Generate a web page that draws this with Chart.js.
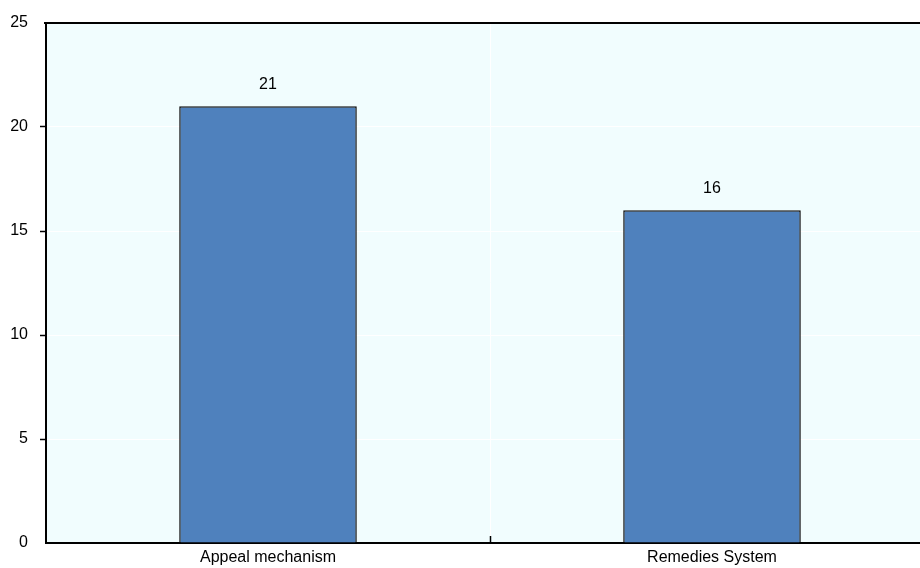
<!DOCTYPE html>
<html>
<head>
<meta charset="utf-8">
<script src="https://cdn.jsdelivr.net/npm/chart.js@4/dist/chart.umd.min.js"></script>
<style>
  html, body { margin: 0; padding: 0; background: #ffffff; overflow: hidden; }
  #wrap { width: 934px; height: 568px; }
</style>
</head>
<body>
<div id="wrap"><canvas id="c" width="934" height="568"></canvas></div>
<script>
// Chart data
const categories = ['Appeal mechanism', 'Remedies System'];
const values = [21, 16];
const yTicks = [0, 5, 10, 15, 20, 25];

const FONT = '"Liberation Sans", Arial, sans-serif';

// Plot background, top frame line, inward category tick and value labels
const decor = {
  id: 'decor',
  beforeDraw(chart) {
    const { ctx, chartArea: a } = chart;
    ctx.save();
    ctx.fillStyle = '#F1FDFE';
    ctx.fillRect(a.left, a.top, a.right - a.left, a.bottom - a.top);
    ctx.restore();
  },
  afterDraw(chart) {
    const { ctx, chartArea: a, scales } = chart;
    ctx.save();
    // top frame
    ctx.strokeStyle = '#000';
    ctx.lineWidth = 2;
    ctx.beginPath();
    ctx.moveTo(a.left - 2, a.top);
    ctx.lineTo(a.right, a.top);
    ctx.stroke();
    // inward tick between categories
    const x = scales.x;
    for (let i = 0; i < categories.length - 1; i++) {
      const bx = Math.round((x.getPixelForValue(i) + x.getPixelForValue(i + 1)) / 2) + 0.5;
      ctx.lineWidth = 1.5;
      ctx.beginPath();
      ctx.moveTo(bx, a.bottom);
      ctx.lineTo(bx, a.bottom - 7);
      ctx.stroke();
    }
    // value labels above bars
    ctx.fillStyle = '#000';
    ctx.font = '16px ' + FONT;
    ctx.textAlign = 'center';
    ctx.textBaseline = 'middle';
    const meta = chart.getDatasetMeta(0);
    meta.data.forEach((bar, i) => {
      const v = chart.data.datasets[0].data[i];
      ctx.fillText(String(v), bar.x, bar.y - 22);
    });
    ctx.restore();
  }
};

new Chart(document.getElementById('c'), {
  type: 'bar',
  data: {
    labels: categories,
    datasets: [{
      data: values,
      backgroundColor: '#4F81BD',
      borderColor: '#111111',
      borderWidth: 1.5,
      barPercentage: 0.4,
      categoryPercentage: 1.0
    }]
  },
  options: {
    responsive: false,
    animation: false,
    devicePixelRatio: 1,
    layout: { padding: { top: 23, right: 0, left: 0, bottom: 0 } },
    plugins: { legend: { display: false }, tooltip: { enabled: false } },
    scales: {
      x: {
        afterFit(s) { s.height = 25; },
        grid: {
          offset: true,
          color: '#FFFFFF',
          lineWidth: 1,
          drawTicks: false
        },
        border: { color: '#000', width: 2 },
        ticks: {
          color: '#000',
          font: { family: FONT, size: 16 },
          padding: 5,
          maxRotation: 0
        }
      },
      y: {
        min: 0,
        max: 25,
        afterFit(s) { s.width = 46; },
        afterBuildTicks(s) { s.ticks = yTicks.map(v => ({ value: v })); },
        grid: {
          color: '#FFFFFF',
          lineWidth: 1,
          tickColor: (c) => (c.tick && (c.tick.value === 0 || c.tick.value === 25)) ? 'rgba(0,0,0,0)' : '#000',
          tickLength: 6,
          tickWidth: 1.5
        },
        border: { color: '#000', width: 2 },
        ticks: {
          color: '#000',
          font: { family: FONT, size: 16 },
          padding: 12
        }
      }
    }
  },
  plugins: [decor]
});
</script>
</body>
</html>
